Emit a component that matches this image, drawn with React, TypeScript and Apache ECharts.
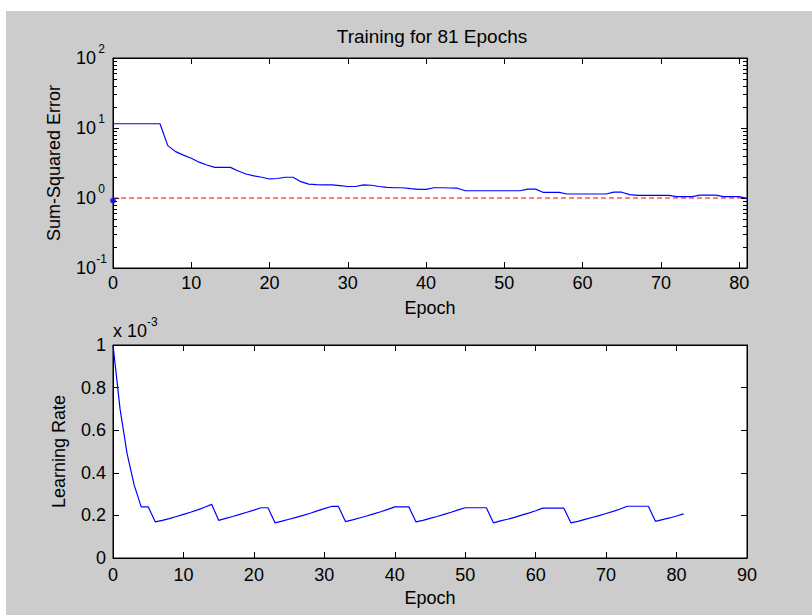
import React, { useEffect, useRef } from "react";
import * as echarts from "echarts";

const chartTitle = "Training for 81 Epochs";
const xName = "Epoch";
const errorName = "Sum-Squared Error";
const rateName = "Learning Rate";
const rateExponent = "-3";

const epochs = [
  0, 1, 2, 3, 4, 5, 6, 7, 8, 9, 10, 11, 12, 13, 14, 15, 16, 17, 18, 19, 20,
  21, 22, 23, 24, 25, 26, 27, 28, 29, 30, 31, 32, 33, 34, 35, 36, 37, 38, 39, 40,
  41, 42, 43, 44, 45, 46, 47, 48, 49, 50, 51, 52, 53, 54, 55, 56, 57, 58, 59, 60,
  61, 62, 63, 64, 65, 66, 67, 68, 69, 70, 71, 72, 73, 74, 75, 76, 77, 78, 79, 80, 81,
];

const sumSquaredError = [
  11.5, 11.5, 11.5, 11.5, 11.5, 11.5, 11.5, 5.6, 4.6, 4.1, 3.7,
  3.25, 2.96, 2.74, 2.74, 2.74, 2.43, 2.2, 2.07, 1.98, 1.87,
  1.9, 1.98, 1.98, 1.71, 1.58, 1.55, 1.54, 1.54, 1.5, 1.46,
  1.46, 1.54, 1.52, 1.46, 1.42, 1.4, 1.4, 1.36, 1.33, 1.33,
  1.4, 1.4, 1.39, 1.38, 1.27, 1.27, 1.27, 1.27, 1.27, 1.27,
  1.27, 1.27, 1.34, 1.34, 1.2, 1.2, 1.2, 1.14, 1.14, 1.14,
  1.14, 1.14, 1.14, 1.21, 1.21, 1.12, 1.09, 1.09, 1.09, 1.09,
  1.09, 1.045, 1.045, 1.045, 1.1, 1.1, 1.1, 1.045, 1.045, 1.045, 0.99,
];

// learning rate in units of 10^-3
const learningRate = [
  1.0, 0.7, 0.49, 0.343, 0.24, 0.24, 0.17, 0.177, 0.185, 0.195, 0.205,
  0.215, 0.226, 0.238, 0.252, 0.177, 0.186, 0.195, 0.205, 0.215, 0.225,
  0.236, 0.236, 0.165, 0.173, 0.182, 0.191, 0.2, 0.21, 0.221, 0.232,
  0.242, 0.242, 0.171, 0.179, 0.188, 0.197, 0.207, 0.217, 0.228, 0.24,
  0.24, 0.24, 0.17, 0.177, 0.186, 0.195, 0.205, 0.215, 0.226, 0.236,
  0.236, 0.236, 0.236, 0.165, 0.174, 0.182, 0.191, 0.201, 0.211, 0.222,
  0.234, 0.234, 0.234, 0.234, 0.165, 0.172, 0.181, 0.19, 0.199, 0.209,
  0.219, 0.23, 0.243, 0.243, 0.243, 0.243, 0.172, 0.18, 0.188, 0.197, 0.207,
];

const goalValue = 1;
const goalEpochs = [0, 81];
const startMarker = [0, 0.92];

const errorXMax = 81;
const rateXMax = 90;
const xInterval = 10;
const errorYMin = 0.1;
const errorYMax = 100;
const logMinorTicks = [
  0.2, 0.3, 0.4, 0.5, 0.6, 0.7, 0.8, 0.9,
  2, 3, 4, 5, 6, 7, 8, 9,
  20, 30, 40, 50, 60, 70, 80, 90,
];
const rateYMin = 0;
const rateYMax = 1;
const rateYInterval = 0.2;

const FONT = "'Liberation Sans', Arial, Helvetica, sans-serif";
const BLACK = "#000000";
const BLUE = "#0000ff";
const RED = "#ff0000";

const lineAxis = { show: true, onZero: false, lineStyle: { color: BLACK, width: 1 } };
const noLine = { show: false, onZero: false };
const tickIn = (len: number) => ({ show: true, inside: true, length: len, lineStyle: { color: BLACK, width: 1 } });
const labelBase = { color: BLACK, fontSize: 18, fontFamily: FONT };
const nameStyle = { color: BLACK, fontSize: 18, fontFamily: FONT };

const supRich = {
  b: { fontSize: 18, lineHeight: 30, fontFamily: FONT, color: BLACK, verticalAlign: "middle" },
  s: { fontSize: 12, lineHeight: 12, width: 11, align: "left", fontFamily: FONT, color: BLACK, verticalAlign: "top" },
};

export default function App() {
  const ref = useRef<HTMLDivElement>(null);

  useEffect(() => {
    if (!ref.current) return;
    const chart = echarts.init(ref.current, null, { renderer: "svg" });

    const option: any = {
      animation: false,
      backgroundColor: "transparent",
      title: {
        text: chartTitle,
        left: 427,
        top: 22,
        textAlign: "center",
        textStyle: { color: BLACK, fontSize: 19, fontWeight: "normal", fontFamily: FONT },
      },
      grid: [
        { left: 113, top: 58, width: 634, height: 210, show: true, backgroundColor: "#ffffff", borderColor: BLACK, borderWidth: 1 },
        { left: 113, top: 345, width: 634, height: 213, show: true, backgroundColor: "#ffffff", borderColor: BLACK, borderWidth: 1 },
      ],
      xAxis: [
        {
          gridIndex: 0, type: "value", min: 0, max: errorXMax, interval: xInterval, position: "bottom",
          axisLine: lineAxis, axisTick: tickIn(6), splitLine: { show: false },
          axisLabel: { ...labelBase, margin: 6, showMaxLabel: false, formatter: (v: number) => (v % xInterval === 0 ? String(v) : "") },
          name: xName, nameLocation: "middle", nameGap: 31, nameTextStyle: nameStyle,
        },
        {
          gridIndex: 0, type: "value", min: 0, max: errorXMax, interval: xInterval, position: "top",
          axisLine: lineAxis, axisTick: tickIn(6), splitLine: { show: false }, axisLabel: { show: false },
        },
        {
          gridIndex: 1, type: "value", min: 0, max: rateXMax, interval: xInterval, position: "bottom",
          axisLine: lineAxis, axisTick: tickIn(6), splitLine: { show: false },
          axisLabel: { ...labelBase, margin: 8 },
          name: xName, nameLocation: "middle", nameGap: 31, nameTextStyle: nameStyle,
        },
        {
          gridIndex: 1, type: "value", min: 0, max: rateXMax, interval: xInterval, position: "top",
          axisLine: lineAxis, axisTick: tickIn(6), splitLine: { show: false }, axisLabel: { show: false },
        },
      ],
      yAxis: [
        {
          gridIndex: 0, type: "log", logBase: 10, min: errorYMin, max: errorYMax, position: "left",
          axisLine: lineAxis, axisTick: tickIn(6), splitLine: { show: false }, minorTick: { show: false },
          axisLabel: {
            margin: 6,
            formatter: (v: number) => `{b|10}{s|${Math.round(Math.log10(v))}}`,
            rich: supRich,
          },
          name: errorName, nameLocation: "middle", nameGap: 50, nameTextStyle: nameStyle,
        },
        {
          gridIndex: 0, type: "log", logBase: 10, min: errorYMin, max: errorYMax, position: "right",
          axisLine: lineAxis, axisTick: tickIn(6), splitLine: { show: false }, axisLabel: { show: false },
        },
        {
          gridIndex: 0, type: "value", min: -1, max: 2, position: "left",
          axisLine: noLine, splitLine: { show: false }, axisLabel: { show: false },
          axisTick: { ...tickIn(4), customValues: logMinorTicks.map((t) => Math.log10(t)) },
        },
        {
          gridIndex: 0, type: "value", min: -1, max: 2, position: "right",
          axisLine: noLine, splitLine: { show: false }, axisLabel: { show: false },
          axisTick: { ...tickIn(4), customValues: logMinorTicks.map((t) => Math.log10(t)) },
        },
        {
          gridIndex: 1, type: "value", min: rateYMin, max: rateYMax, interval: rateYInterval, position: "left",
          axisLine: lineAxis, axisTick: tickIn(6), splitLine: { show: false },
          axisLabel: { ...labelBase, margin: 7 },
          name: rateName, nameLocation: "middle", nameGap: 45, nameTextStyle: nameStyle,
        },
        {
          gridIndex: 1, type: "value", min: rateYMin, max: rateYMax, interval: rateYInterval, position: "right",
          axisLine: lineAxis, axisTick: tickIn(6), splitLine: { show: false }, axisLabel: { show: false },
        },
      ],
      graphic: [
        {
          type: "text",
          x: 113,
          y: 331,
          style: {
            text: `{b|x 10}{s|${rateExponent}}`,
            rich: supRich,
            align: "left",
            verticalAlign: "middle",
          },
        },
      ],
      series: [
        {
          type: "line", xAxisIndex: 0, yAxisIndex: 0, showSymbol: false, symbol: "none",
          data: epochs.map((e, i) => [e, sumSquaredError[i]]),
          lineStyle: { color: BLUE, width: 1.2 }, itemStyle: { color: BLUE }, z: 3,
        },
        {
          type: "line", xAxisIndex: 0, yAxisIndex: 0, showSymbol: false, symbol: "none",
          data: goalEpochs.map((e) => [e, goalValue]),
          lineStyle: { color: RED, width: 1.2, type: [5, 3] }, z: 2,
        },
        {
          type: "scatter", xAxisIndex: 0, yAxisIndex: 0, symbol: "circle", symbolSize: 6,
          data: [startMarker], itemStyle: { color: BLUE }, z: 4,
        },
        {
          type: "line", xAxisIndex: 2, yAxisIndex: 4, showSymbol: false, symbol: "none",
          data: epochs.map((e, i) => [e, learningRate[i]]),
          lineStyle: { color: BLUE, width: 1.2 }, itemStyle: { color: BLUE },
        },
      ],
    };

    chart.setOption(option);
    return () => chart.dispose();
  }, []);

  return (
    <div style={{ position: "fixed", left: 0, top: 0, width: 812, height: 615, background: "#ffffff" }}>
      <div style={{ position: "absolute", left: 6, top: 11, width: 806, height: 604, background: "#cccccc" }} />
      <div ref={ref} style={{ position: "absolute", left: 0, top: 0, width: 812, height: 615 }} />
    </div>
  );
}
